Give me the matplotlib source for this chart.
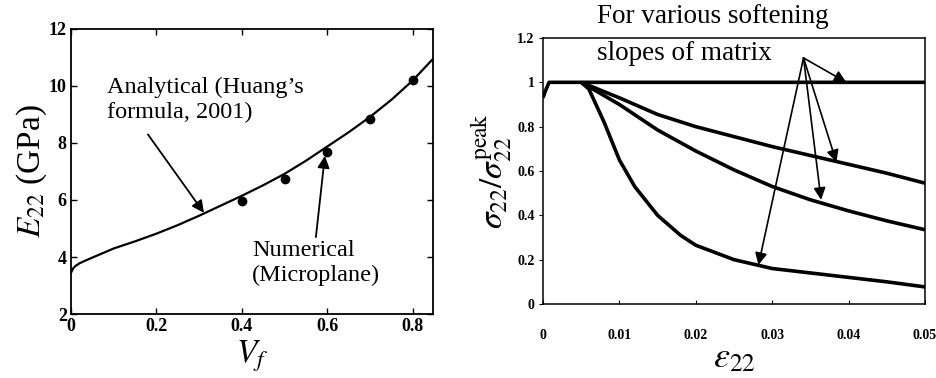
import matplotlib
matplotlib.use("Agg")
import matplotlib.pyplot as plt
import numpy as np

plt.rcParams['font.family'] = ['Liberation Serif', 'DejaVu Serif']
plt.rcParams['mathtext.fontset'] = 'stix'

# ---- Left panel data ----
vf_analytical = [0.0, 0.005, 0.01, 0.02, 0.03, 0.05, 0.1, 0.15, 0.2, 0.25, 0.3, 0.35, 0.4, 0.45, 0.5, 0.55, 0.6, 0.65, 0.7, 0.75, 0.8, 0.85]
e22_analytical = [3.45, 3.6, 3.68, 3.78, 3.85, 3.98, 4.3, 4.55, 4.82, 5.12, 5.45, 5.8, 6.15, 6.52, 6.92, 7.38, 7.88, 8.38, 8.92, 9.52, 10.2, 11.0]
vf_numerical = [0.4, 0.5, 0.6, 0.7, 0.8]
e22_numerical = [5.95, 6.75, 7.7, 8.85, 10.2]
left_xticks = [0, 0.2, 0.4, 0.6, 0.8]
left_xticklabels = ['0', '0.2', '0.4', '0.6', '0.8']
left_yticks = [2, 4, 6, 8, 10, 12]

# ---- Right panel data ----
eps_flat = [0.0, 0.0003, 0.0008, 0.002, 0.005, 0.01, 0.02, 0.03, 0.04, 0.05]
sig_flat = [0.93, 0.96, 1.0, 1.0, 1.0, 1.0, 1.0, 1.0, 1.0, 1.0]
eps_a = [0.005, 0.0075, 0.01, 0.015, 0.02, 0.025, 0.03, 0.035, 0.04, 0.045, 0.05]
sig_a = [1.0, 0.965, 0.93, 0.855, 0.80, 0.755, 0.71, 0.67, 0.63, 0.59, 0.545]
eps_b = [0.005, 0.0075, 0.01, 0.015, 0.02, 0.025, 0.03, 0.035, 0.04, 0.045, 0.05]
sig_b = [1.0, 0.95, 0.90, 0.785, 0.69, 0.605, 0.53, 0.47, 0.42, 0.375, 0.335]
eps_c = [0.005, 0.006, 0.008, 0.01, 0.012, 0.015, 0.018, 0.02, 0.025, 0.03, 0.035, 0.04, 0.045, 0.05]
sig_c = [1.0, 0.97, 0.82, 0.65, 0.53, 0.40, 0.31, 0.265, 0.20, 0.16, 0.14, 0.12, 0.10, 0.077]
right_xticks = [0, 0.01, 0.02, 0.03, 0.04, 0.05]
right_xticklabels = ['0', '0.01', '0.02', '0.03', '0.04', '0.05']
right_yticks = [0, 0.2, 0.4, 0.6, 0.8, 1.0, 1.2]
right_yticklabels = ['0', '0.2', '0.4', '0.6', '0.8', '1', '1.2']

fig = plt.figure(figsize=(9.37, 3.78), dpi=100)

# ---------------- Left ----------------
ax1 = fig.add_axes([0.0758, 0.1693, 0.3863, 0.754])
ax1.plot(vf_analytical, e22_analytical, color='black', lw=1.6)
ax1.plot(vf_numerical, e22_numerical, 'o', color='black', ms=6)
ax1.set_xlim(0, 0.847)
ax1.set_ylim(2, 12)
ax1.set_xticks(left_xticks)
ax1.set_xticklabels(left_xticklabels)
ax1.set_yticks(left_yticks)
ax1.tick_params(direction='in', top=True, right=True, length=4, width=1,
                labelsize=13, pad=3)
for lab in ax1.get_xticklabels() + ax1.get_yticklabels():
    lab.set_fontweight('bold')
for s in ax1.spines.values():
    s.set_linewidth(1.3)
ax1.set_xlabel(r'$V_f$', fontsize=24, labelpad=2)
ax1.set_ylabel(r'$E_{22}$ (GPa)', fontsize=24, labelpad=0)

ax1.annotate('', xy=(0.311, 5.55), xytext=(0.18, 8.3),
             arrowprops=dict(arrowstyle='-|>', color='black', lw=1.3,
                             mutation_scale=18, shrinkA=0, shrinkB=0))
ax1.text(0.084, 9.5, "Analytical (Huang\u2019s\nformula, 2001)", fontsize=17.5,
         va='center', ha='left', linespacing=1.25)
ax1.annotate('', xy=(0.594, 7.55), xytext=(0.573, 4.7),
             arrowprops=dict(arrowstyle='-|>', color='black', lw=1.3,
                             mutation_scale=18, shrinkA=0, shrinkB=0))
ax1.text(0.423, 3.8, "Numerical\n(Microplane)", fontsize=17.5,
         va='center', ha='left', linespacing=1.25)

# ---------------- Right ----------------
ax2 = fig.add_axes([0.5795, 0.1958, 0.4077, 0.7037])
for ex, sy in [(eps_flat, sig_flat), (eps_a, sig_a), (eps_b, sig_b), (eps_c, sig_c)]:
    ax2.plot(ex, sy, color='black', lw=2.6, solid_capstyle='butt')
ax2.set_xlim(0, 0.05)
ax2.set_ylim(0, 1.2)
ax2.set_xticks(right_xticks)
ax2.set_xticklabels(right_xticklabels)
ax2.set_yticks(right_yticks)
ax2.set_yticklabels(right_yticklabels)
ax2.tick_params(axis='x', direction='in', length=3, labelsize=10, pad=18)
ax2.tick_params(axis='y', direction='out', length=3, labelsize=10, pad=3)
for lab in ax2.get_xticklabels() + ax2.get_yticklabels():
    lab.set_fontweight('bold')
for s in ax2.spines.values():
    s.set_linewidth(1.1)
ax2.set_xlabel(r'$\varepsilon_{22}$', fontsize=26, labelpad=0)
ax2.set_ylabel(r'$\sigma_{22}/\sigma_{22}^{\mathrm{peak}}$', fontsize=24, labelpad=2)

origin = (0.0341, 1.11)
targets = [(0.0397, 1.0), (0.0384, 0.64), (0.0364, 0.47), (0.0282, 0.176)]
for t in targets:
    ax2.annotate('', xy=t, xytext=origin,
                 arrowprops=dict(arrowstyle='-|>', color='black', lw=1.2,
                                 mutation_scale=18, shrinkA=0, shrinkB=0))
ax2.text(0.0071, 1.295, "For various softening", fontsize=19.5, ha='left', va='center',
         clip_on=False)
ax2.text(0.0071, 1.132, "slopes of matrix", fontsize=19.5, ha='left', va='center')

fig.savefig('out.png', dpi=100)
